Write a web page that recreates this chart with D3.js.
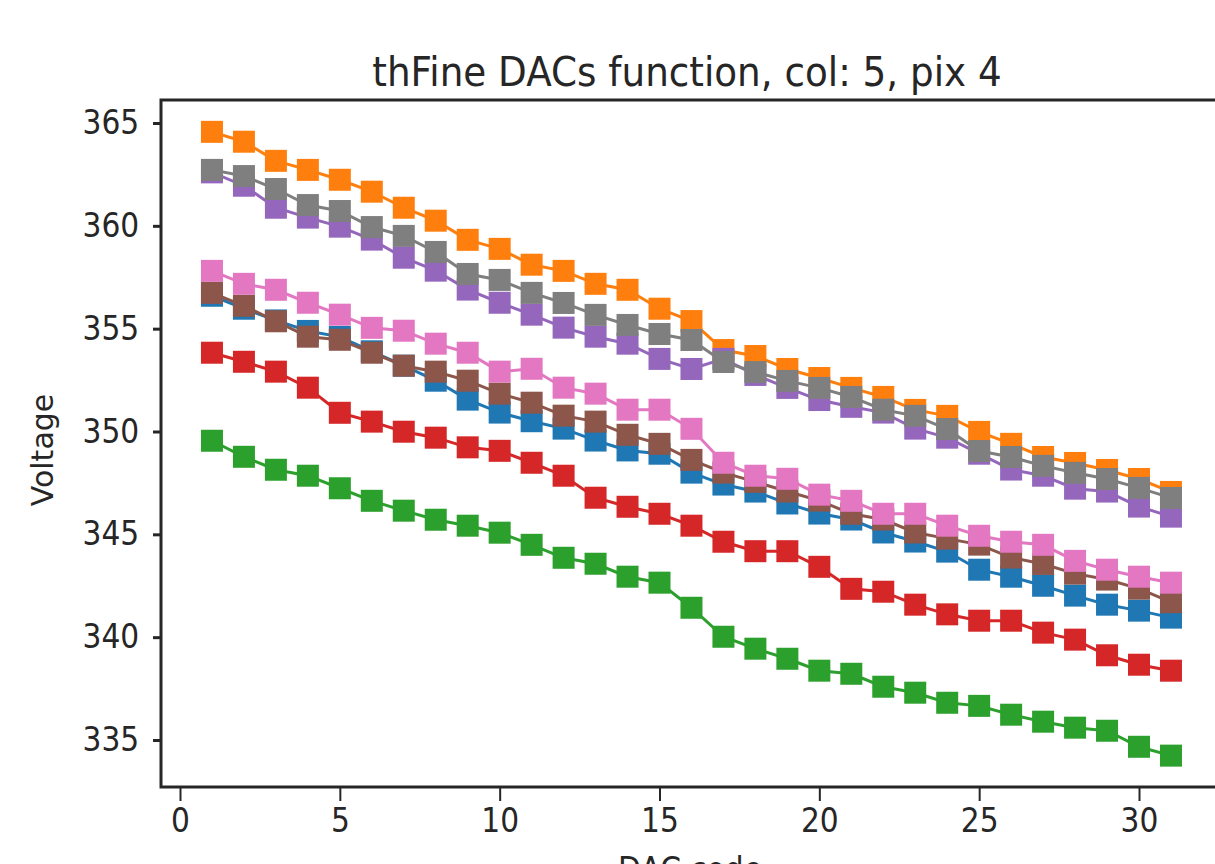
<!DOCTYPE html>
<html>
<head>
<meta charset="utf-8">
<script src="https://cdn.jsdelivr.net/npm/d3@7"></script>
<style>
    body { margin: 0; background: #fff; }
    svg { display: block; }
    text { font-family: "DejaVu Sans", sans-serif; fill: #262626; }
</style>
</head>
<body>
<div id="svgcontainer"></div>
<script>
// DAC codes 1..31
var dacCodes = d3.range(1, 32);
var xTicks = [0, 5, 10, 15, 20, 25, 30];
var yTicks = [335, 340, 345, 350, 355, 360, 365];

// one array per curve (tab10 order)
var blue = [356.60, 355.97, 355.40, 354.89, 354.60, 353.90, 353.20, 352.47, 351.55, 350.92, 350.50, 350.14, 349.56, 349.08, 348.92, 348.00, 347.42, 347.08, 346.50, 346.01, 345.72, 345.09, 344.65, 344.16, 343.28, 342.94, 342.50, 342.02, 341.58, 341.29, 340.95];
var orange = [364.57, 364.09, 363.16, 362.72, 362.24, 361.66, 360.88, 360.25, 359.32, 358.88, 358.11, 357.81, 357.18, 356.89, 355.97, 355.37, 353.96, 353.67, 353.04, 352.60, 352.12, 351.68, 351.05, 350.76, 349.98, 349.40, 348.76, 348.47, 348.13, 347.69, 347.06];
var green = [349.55, 348.77, 348.14, 347.85, 347.24, 346.63, 346.15, 345.71, 345.42, 345.08, 344.49, 343.86, 343.57, 342.94, 342.65, 341.43, 340.02, 339.44, 338.95, 338.37, 338.22, 337.59, 337.30, 336.81, 336.66, 336.23, 335.89, 335.60, 335.45, 334.67, 334.24];
var red = [353.83, 353.39, 352.91, 352.13, 350.91, 350.48, 349.99, 349.70, 349.23, 349.06, 348.48, 347.85, 346.78, 346.34, 346.00, 345.42, 344.64, 344.18, 344.18, 343.42, 342.35, 342.21, 341.58, 341.11, 340.80, 340.80, 340.22, 339.88, 339.12, 338.66, 338.37];
var purple = [362.60, 361.95, 360.88, 360.40, 359.96, 359.33, 358.45, 357.82, 356.90, 356.26, 355.68, 355.05, 354.61, 354.27, 353.53, 353.04, 353.53, 352.75, 352.12, 351.53, 351.20, 350.92, 350.14, 349.70, 348.92, 348.15, 347.85, 347.22, 347.08, 346.35, 345.86];
var brown = [356.74, 356.11, 355.36, 354.61, 354.46, 353.83, 353.20, 352.91, 352.47, 351.84, 351.40, 350.77, 350.48, 349.84, 349.40, 348.62, 348.00, 347.55, 347.08, 346.64, 346.00, 345.72, 345.09, 344.79, 344.50, 343.87, 343.56, 343.09, 342.80, 342.36, 341.70];
var pink = [357.81, 357.18, 356.89, 356.26, 355.68, 355.04, 354.90, 354.27, 353.83, 352.91, 353.05, 352.13, 351.84, 351.06, 351.06, 350.13, 348.48, 347.85, 347.70, 346.93, 346.63, 346.00, 346.00, 345.42, 344.93, 344.64, 344.49, 343.71, 343.28, 342.94, 342.65];
var gray = [362.72, 362.42, 361.79, 361.01, 360.72, 359.94, 359.51, 358.73, 357.66, 357.37, 356.74, 356.25, 355.67, 355.18, 354.74, 354.45, 353.38, 352.89, 352.46, 352.12, 351.68, 351.06, 350.76, 350.12, 349.05, 348.76, 348.33, 347.99, 347.69, 347.26, 346.77];

var series = [blue, orange, green, red, purple, brown, pink, gray];
var colors = ["#1f77b4", "#ff7f0e", "#2ca02c", "#d62728", "#9467bd", "#8c564b", "#e377c2", "#7f7f7f"];

var width = 1215;
var height = 864;
var plotLeft = 161, plotTop = 100, plotRight = 1219, plotBottom = 787;
var markerSize = 22;

var svg = d3.select("#svgcontainer")
    .append("svg")
    .attr("width", width)
    .attr("height", height);

var x = d3.scaleLinear().domain([0, 30]).range([180, 1139]);
var y = d3.scaleLinear().domain([335, 365]).range([740, 123]);

// curves: line first, then square markers, series by series
var line = d3.line()
    .x(function (d, i) { return x(dacCodes[i]); })
    .y(function (d) { return y(d); });

series.forEach(function (vals, s) {
    var g = svg.append("g");
    g.append("path")
        .attr("d", line(vals))
        .attr("fill", "none")
        .attr("stroke", colors[s])
        .attr("stroke-width", 3);
    g.selectAll("rect")
        .data(vals)
        .enter()
        .append("rect")
        .attr("x", function (d, i) { return x(dacCodes[i]) - markerSize / 2; })
        .attr("y", function (d) { return y(d) - markerSize / 2; })
        .attr("width", markerSize)
        .attr("height", markerSize)
        .attr("fill", colors[s]);
});

// frame
svg.append("rect")
    .attr("x", plotLeft)
    .attr("y", plotTop)
    .attr("width", plotRight - plotLeft)
    .attr("height", plotBottom - plotTop)
    .attr("fill", "none")
    .attr("stroke", "#262626")
    .attr("stroke-width", 3);

// x axis
var xAxis = d3.axisBottom(x).tickValues(xTicks).tickSize(14).tickPadding(8).tickFormat(d3.format("d"));
var gx = svg.append("g")
    .attr("transform", "translate(0," + plotBottom + ")")
    .call(xAxis);
gx.select(".domain").remove();
gx.selectAll(".tick line").attr("stroke", "#262626").attr("stroke-width", 2);
gx.selectAll(".tick text")
    .attr("font-size", 33)
    .attr("font-family", "DejaVu Sans")
    .attr("fill", "#262626")
    .attr("transform", "scale(0.9,1)");

// y axis
var yAxis = d3.axisLeft(y).tickValues(yTicks).tickSize(8).tickPadding(14).tickFormat(d3.format("d"));
var gy = svg.append("g")
    .attr("transform", "translate(" + plotLeft + ",0)")
    .call(yAxis);
gy.select(".domain").remove();
gy.selectAll(".tick line").attr("stroke", "#262626").attr("stroke-width", 3);
gy.selectAll(".tick text")
    .attr("font-size", 33)
    .attr("font-family", "DejaVu Sans")
    .attr("fill", "#262626")
    .attr("transform", "translate(-2,0) scale(0.9,1)");

// title and axis labels
svg.append("text")
    .attr("transform", "translate(687,86) scale(0.91,1)")
    .attr("text-anchor", "middle")
    .attr("font-size", 41)
    .text("thFine DACs function, col: 5, pix 4");

svg.append("text")
    .attr("transform", "translate(690,881) scale(0.9,1)")
    .attr("text-anchor", "middle")
    .attr("font-size", 33)
    .text("DAC code");

svg.append("text")
    .attr("transform", "translate(53,450) rotate(-90)")
    .attr("text-anchor", "middle")
    .attr("font-size", 30)
    .text("Voltage");
</script>
</body>
</html>
